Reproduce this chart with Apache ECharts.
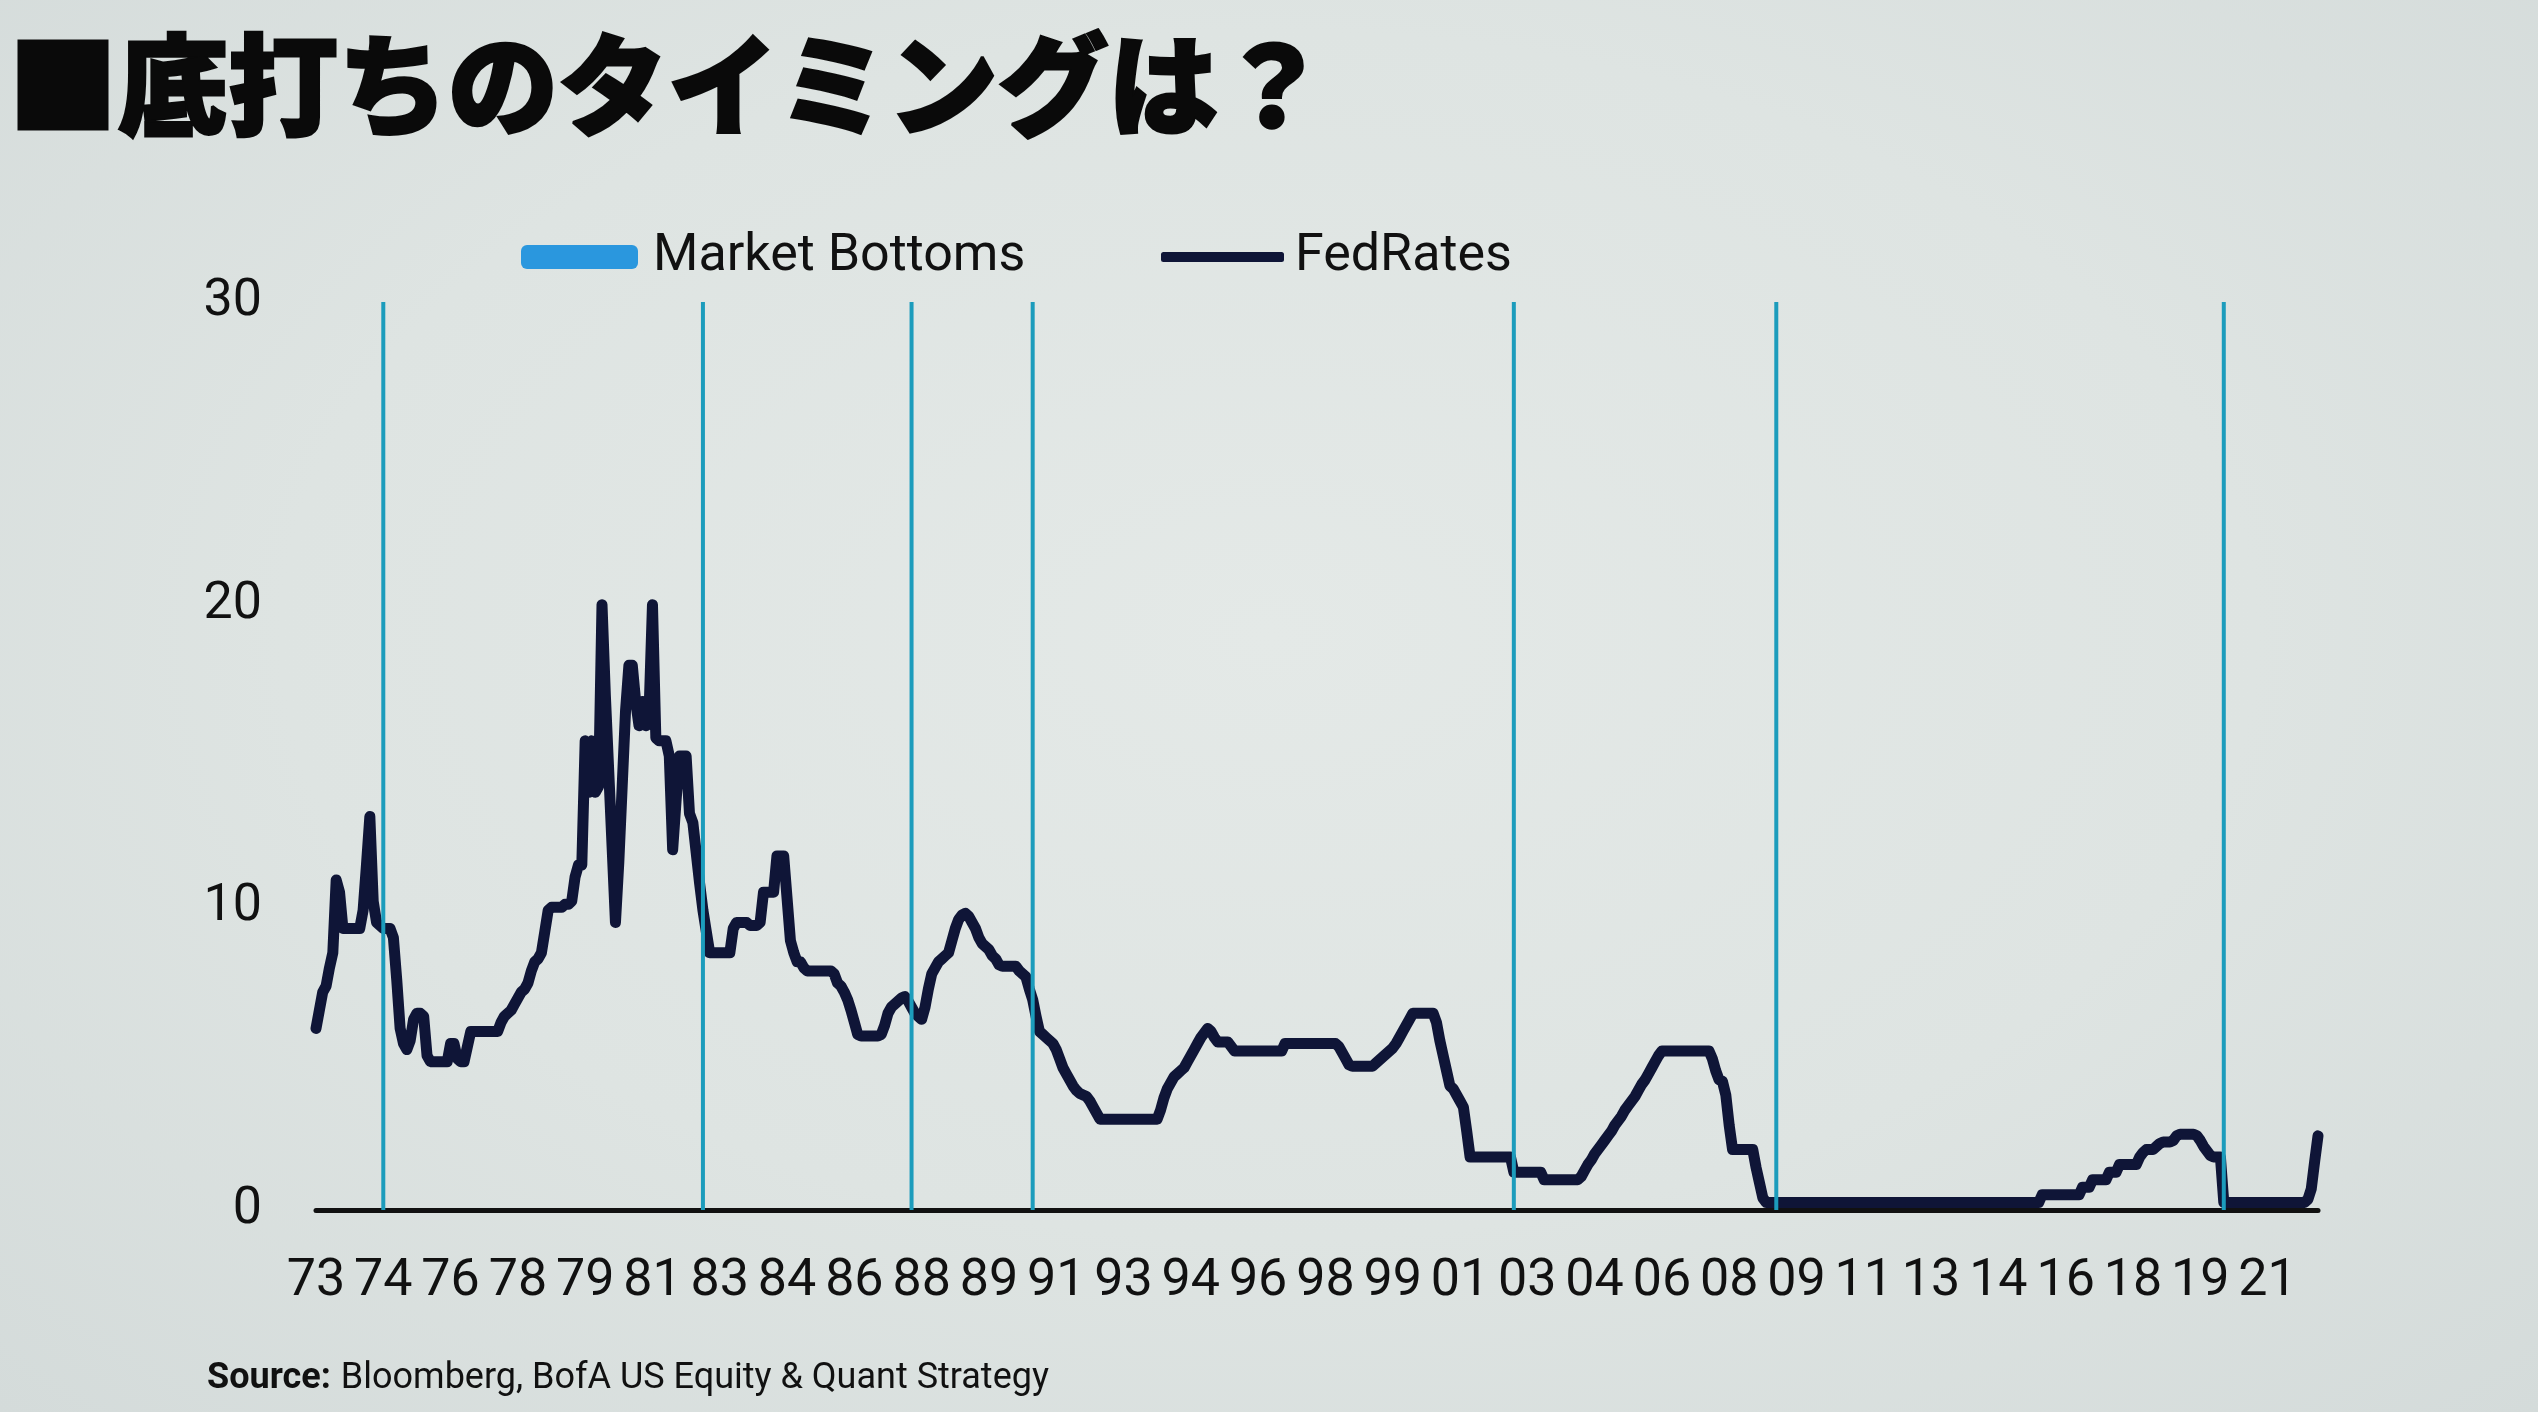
<!DOCTYPE html>
<html>
<head>
<meta charset="utf-8">
<script src="https://cdn.jsdelivr.net/npm/echarts@6/dist/echarts.min.js"></script>
<style>
html,body{margin:0;padding:0;width:2538px;height:1412px;overflow:hidden;
background:radial-gradient(ellipse at 50% 45%, #e4e9e7 0%, #dee4e2 55%, #d4dbda 100%);}
#chart{width:2538px;height:1412px;}
</style>
</head>
<body>
<div id="chart"></div>
<script>
// ---- Fed funds target rate (monthly, Jan 1973 – Aug 2022) ----
const fed1970s = [
  6.0, 6.6, 7.2, 7.4, 8.0, 8.5, 10.9, 10.5, 9.3, 9.3, 9.3, 9.3,        // 1973
  9.3, 9.3, 9.9, 11.4, 13.0, 10.2, 9.5, 9.4, 9.3, 9.3, 9.3, 9.0,      // 1974
  7.6, 6.0, 5.5, 5.3, 5.6, 6.3, 6.5, 6.5, 6.4, 5.1, 4.9, 4.9,         // 1975
  4.9, 4.9, 4.9, 4.9, 5.5, 5.5, 5.0, 4.9, 4.9, 5.4, 5.9, 5.9,         // 1976
  5.9, 5.9, 5.9, 5.9, 5.9, 5.9, 5.9, 6.2, 6.4, 6.5, 6.6, 6.8,         // 1977
  7.0, 7.2, 7.3, 7.5, 7.9, 8.2, 8.3, 8.5, 9.2, 9.9, 10.0, 10.0,       // 1978
  10.0, 10.0, 10.1, 10.1, 10.2, 11.0, 11.4, 11.4, 15.5, 13.8, 15.5, 13.8 // 1979
];
const fed1980s = [
  14.0, 20.0, 17.0, 14.5, 12.0, 9.5, 11.5, 14.0, 16.5, 18.0, 18.0, 16.8, // 1980
  16.0, 16.8, 16.0, 16.5, 20.0, 15.6, 15.5, 15.5, 15.5, 15.0, 11.9, 13.5, // 1981
  15.0, 15.0, 15.0, 13.1, 12.8, 11.8, 10.8, 9.9, 9.2, 8.5, 8.5, 8.5,      // 1982
  8.5, 8.5, 8.5, 8.5, 9.3, 9.5, 9.5, 9.5, 9.5, 9.4, 9.4, 9.4,             // 1983
  9.5, 10.5, 10.5, 10.5, 10.5, 11.7, 11.7, 11.7, 10.3, 8.9, 8.5, 8.2,     // 1984
  8.2, 8.0, 7.9, 7.9, 7.9, 7.9, 7.9, 7.9, 7.9, 7.9, 7.8, 7.5,             // 1985
  7.4, 7.2, 6.95, 6.6, 6.2, 5.8, 5.75, 5.75, 5.75, 5.75, 5.75, 5.75,      // 1986
  5.8, 6.1, 6.5, 6.7, 6.8, 6.9, 7.0, 7.05, 6.9, 6.7, 6.5, 6.4,            // 1987
  6.3, 6.7, 7.3, 7.8, 8.0, 8.2, 8.3, 8.4, 8.5, 8.9, 9.3, 9.6,             // 1988
  9.75, 9.8, 9.7, 9.5, 9.3, 9.0, 8.8, 8.7, 8.6, 8.4, 8.3, 8.1             // 1989
];
const fed1990s = [
  8.05, 8.05, 8.05, 8.05, 8.05, 7.9, 7.8, 7.7, 7.3, 6.95, 6.4, 5.9,       // 1990
  5.8, 5.7, 5.6, 5.5, 5.3, 5.0, 4.7, 4.5, 4.3, 4.1, 3.95, 3.85,           // 1991
  3.8, 3.75, 3.6, 3.4, 3.2, 3.0, 3.0, 3.0, 3.0, 3.0, 3.0, 3.0,            // 1992
  3.0, 3.0, 3.0, 3.0, 3.0, 3.0, 3.0, 3.0, 3.0, 3.0, 3.0, 3.3,             // 1993
  3.7, 4.0, 4.2, 4.4, 4.5, 4.6, 4.7, 4.9, 5.1, 5.3, 5.5, 5.7,             // 1994
  5.85, 6.0, 5.9, 5.7, 5.55, 5.55, 5.55, 5.55, 5.4, 5.25, 5.25, 5.25,     // 1995
  5.25, 5.25, 5.25, 5.25, 5.25, 5.25, 5.25, 5.25, 5.25, 5.25, 5.25, 5.25, // 1996
  5.5, 5.5, 5.5, 5.5, 5.5, 5.5, 5.5, 5.5, 5.5, 5.5, 5.5, 5.5,             // 1997
  5.5, 5.5, 5.5, 5.5, 5.4, 5.2, 5.0, 4.8, 4.75, 4.75, 4.75, 4.75,         // 1998
  4.75, 4.75, 4.75, 4.85, 4.95, 5.05, 5.15, 5.25, 5.35, 5.5, 5.7, 5.9     // 1999
];
const fed2000s = [
  6.1, 6.3, 6.5, 6.5, 6.5, 6.5, 6.5, 6.5, 6.5, 6.2, 5.6, 5.1,             // 2000
  4.6, 4.1, 4.0, 3.8, 3.6, 3.4, 2.6, 1.75, 1.75, 1.75, 1.75, 1.75,        // 2001
  1.75, 1.75, 1.75, 1.75, 1.75, 1.75, 1.75, 1.75, 1.25, 1.25, 1.25, 1.25, // 2002
  1.25, 1.25, 1.25, 1.25, 1.25, 1.0, 1.0, 1.0, 1.0, 1.0, 1.0, 1.0,        // 2003
  1.0, 1.0, 1.0, 1.0, 1.1, 1.3, 1.5, 1.65, 1.85, 2.0, 2.15, 2.3,          // 2004
  2.45, 2.6, 2.8, 2.95, 3.1, 3.3, 3.45, 3.6, 3.75, 3.95, 4.15, 4.3,       // 2005
  4.5, 4.7, 4.9, 5.1, 5.25, 5.25, 5.25, 5.25, 5.25, 5.25, 5.25, 5.25,     // 2006
  5.25, 5.25, 5.25, 5.25, 5.25, 5.25, 5.25, 5.0, 4.6, 4.3, 4.25, 3.8,     // 2007
  2.8, 2.0, 2.0, 2.0, 2.0, 2.0, 2.0, 2.0, 1.4, 0.9, 0.4, 0.25,            // 2008
  0.25, 0.25, 0.25, 0.25, 0.25, 0.25, 0.25, 0.25, 0.25, 0.25, 0.25, 0.25  // 2009
];
const fed2010s = [
  0.25, 0.25, 0.25, 0.25, 0.25, 0.25, 0.25, 0.25, 0.25, 0.25, 0.25, 0.25, // 2010
  0.25, 0.25, 0.25, 0.25, 0.25, 0.25, 0.25, 0.25, 0.25, 0.25, 0.25, 0.25, // 2011
  0.25, 0.25, 0.25, 0.25, 0.25, 0.25, 0.25, 0.25, 0.25, 0.25, 0.25, 0.25, // 2012
  0.25, 0.25, 0.25, 0.25, 0.25, 0.25, 0.25, 0.25, 0.25, 0.25, 0.25, 0.25, // 2013
  0.25, 0.25, 0.25, 0.25, 0.25, 0.25, 0.25, 0.25, 0.25, 0.25, 0.25, 0.25, // 2014
  0.25, 0.25, 0.25, 0.25, 0.25, 0.25, 0.25, 0.25, 0.25, 0.5, 0.5, 0.5,    // 2015
  0.5, 0.5, 0.5, 0.5, 0.5, 0.5, 0.5, 0.5, 0.5, 0.75, 0.75, 0.75,          // 2016
  1.0, 1.0, 1.0, 1.0, 1.0, 1.25, 1.25, 1.25, 1.5, 1.5, 1.5, 1.5,          // 2017
  1.5, 1.5, 1.75, 1.9, 2.0, 2.0, 2.0, 2.1, 2.2, 2.25, 2.25, 2.25,         // 2018
  2.3, 2.45, 2.5, 2.5, 2.5, 2.5, 2.5, 2.45, 2.3, 2.1, 1.95, 1.8           // 2019
];
const fed2020s = [
  1.75, 1.75, 1.75, 0.25, 0.25, 0.25, 0.25, 0.25, 0.25, 0.25, 0.25, 0.25, // 2020
  0.25, 0.25, 0.25, 0.25, 0.25, 0.25, 0.25, 0.25, 0.25, 0.25, 0.25, 0.25, // 2021
  0.25, 0.25, 0.25, 0.25, 0.35, 0.7, 1.6, 2.45                            // 2022 (Jan–Aug)
];
const fedRates = [].concat(fed1970s, fed1980s, fed1990s, fed2000s, fed2010s, fed2020s);

// Market bottoms (month of each vertical marker)
const bottomMonths = ['1974-09', '1982-08', '1987-10', '1990-10', '2002-09', '2009-03', '2020-04'];
const bottomValue = 30;

// Y-axis ticks
const yMin = 0, yMax = 30, yStep = 10;
// X-axis: a year label every 20 months
const xLabelEvery = 20;

// Monthly categories
const months = [];
for (let y = 1973; y <= 2022; y++) {
  for (let m = 1; m <= 12; m++) {
    if (months.length < fedRates.length) months.push(y + '-' + String(m).padStart(2, '0'));
  }
}
const bottomsData = months.map(m => bottomMonths.indexOf(m) >= 0 ? bottomValue : null);

const sans = "Roboto, 'Liberation Sans', sans-serif";
const ink = '#111111';
const navy = '#0f1537';

const chart = echarts.init(document.getElementById('chart'), null, {renderer: 'canvas'});
chart.setOption({
  backgroundColor: 'transparent',
  animation: false,
  title: [{
    text: '■底打ちのタイミングは？',
    left: 3, top: 25,
    textStyle: {
      fontFamily: "'Noto Sans CJK JP', sans-serif", fontWeight: 900, fontSize: 110,
      color: '#0a0a0a', textBorderColor: '#0a0a0a', textBorderWidth: 3
    }
  }, {
    text: '{b|Source:}  {n|Bloomberg, BofA US Equity & Quant Strategy}',
    left: 202, top: 1356,
    textStyle: {
      fontWeight: 'normal',
      rich: {
        b: {fontFamily: sans, fontWeight: 'bold', fontSize: 36, color: ink},
        n: {fontFamily: sans, fontWeight: 'normal', fontSize: 36, color: ink}
      }
    }
  }],
  legend: [{
    data: [{name: 'Market Bottoms', icon: 'roundRect', itemStyle: {color: '#2a97de'}}],
    left: 516, top: 222, itemWidth: 117, itemHeight: 24, selectedMode: false,
    textStyle: {fontFamily: sans, fontSize: 52, lineHeight: 60, color: ink, padding: [0, 0, 0, 10]}
  }, {
    data: [{name: 'FedRates', icon: 'roundRect', itemStyle: {color: navy}}],
    left: 1156, top: 222, itemWidth: 123, itemHeight: 10, selectedMode: false,
    textStyle: {fontFamily: sans, fontSize: 52, lineHeight: 60, color: ink, padding: [0, 0, 0, 6]}
  }],
  grid: {left: 316, right: 220, top: 302, bottom: 202, containLabel: false},
  xAxis: {
    type: 'category', data: months, boundaryGap: false,
    axisLine: {lineStyle: {color: ink, width: 5}},
    axisTick: {show: false},
    splitLine: {show: false},
    axisLabel: {
      interval: 0,
      formatter: (v, idx) => (idx % xLabelEvery === 0 ? v.slice(2, 4) : ''),
      showMinLabel: true,
      fontFamily: sans, fontSize: 52, color: ink, margin: 46
    }
  },
  yAxis: {
    type: 'value', min: yMin, max: yMax, interval: yStep,
    axisLine: {show: false}, axisTick: {show: false}, splitLine: {show: false},
    axisLabel: {fontFamily: sans, fontSize: 52, color: ink, margin: 54}
  },
  series: [{
    name: 'FedRates', type: 'line', data: fedRates, symbol: 'none', showSymbol: false, z: 2,
    lineStyle: {color: navy, width: 11, cap: 'round', join: 'round'},
    itemStyle: {color: navy}
  }, {
    name: 'Market Bottoms', type: 'bar', data: bottomsData, barWidth: 4, z: 3,
    itemStyle: {color: '#1c9cbc'}
  }]
});
</script>
</body>
</html>
